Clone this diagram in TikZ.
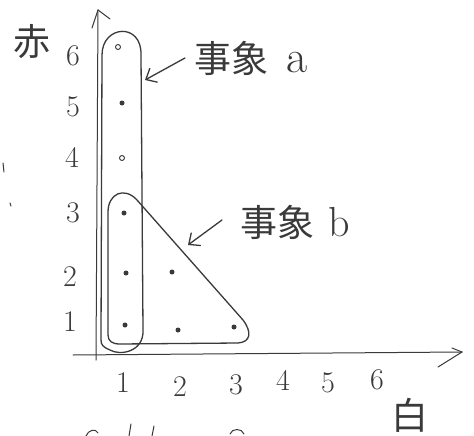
\documentclass[tikz,border=0pt]{standalone}
\usepackage{fontspec}
\newfontfamily\jp{Noto Sans CJK JP}
\usetikzlibrary{arrows.meta}
\definecolor{pencil}{HTML}{3A3A3A}
\tikzset{
  pen/.style={draw=pencil, line width=1.3pt, line cap=round, line join=round},
  thin pen/.style={draw=pencil, line width=1pt, line cap=round, line join=round},
  numlbl/.style={text=pencil, font=\fontsize{30}{30}\selectfont, inner sep=0pt},
  jplbl/.style={text=pencil, font=\jp\fontsize{37}{37}\selectfont, inner sep=0pt},
  fulldot/.style={circle, fill=pencil, inner sep=0pt, minimum size=5pt},
  hollowdot/.style={circle, draw=pencil, line width=0.9pt, inner sep=0pt, minimum size=5pt},
  barb/.style={-{Straight Barb[length=9pt,width=16pt,line width=1.3pt]}}
}
\begin{document}
\begin{tikzpicture}[x=1pt,y=-1pt]
\useasboundingbox (0,0) rectangle (474,436);
\fill[white] (0,0) rectangle (474,436);

% axes
\coordinate (yb) at (96,360);
\coordinate (yt) at (98,10);
\coordinate (xl) at (73,355);
\coordinate (xr) at (462,352);
\draw[thin pen] (yb) -- (yt);
\draw[thin pen] (yt) -- (92,28);
\draw[thin pen] (yt) -- (110,19);
\draw[thin pen] (xl) -- (xr);
\draw[thin pen] (xr) -- (438,367);
\draw[thin pen] (xr) -- (452,348);

% axis names
\node[jplbl] (aka) at (32,42) {赤};
\node[jplbl] (shiro) at (410,415) {白};

% y labels
\node[numlbl] (y6) at (73,56) {6};
\node[numlbl] (y5) at (73,107) {5};
\node[numlbl] (y4) at (72,157) {4};
\node[numlbl] (y3) at (73,213) {3};
\node[numlbl] (y2) at (70,277) {2};
\node[numlbl] (y1) at (70,322) {1};
% x labels
\node[numlbl] (x1) at (123,383) {1};
\node[numlbl] (x2) at (180,387) {2};
\node[numlbl] (x3) at (236,385) {3};
\node[numlbl] (x4) at (283,380) {4};
\node[numlbl] (x5) at (328,383) {5};
\node[numlbl] (x6) at (377,380) {6};

% sample points
\node[hollowdot] (p16) at (118,47) {};
\node[fulldot] (p15) at (122,103) {};
\node[hollowdot] (p14) at (122,158) {};
\node[fulldot] (p13) at (124,213) {};
\node[fulldot] (p12) at (126,273) {};
\node[fulldot] (p11) at (125,325) {};
\node[fulldot] (p22) at (172,272) {};
\node[fulldot] (p21) at (178,330) {};
\node[fulldot] (p31) at (234,327) {};

% event a: tall rounded rectangle
\draw[pen] (101,340) -- (102,55) .. controls (102,25) and (142,22) .. (141,55)
  -- (143,330) .. controls (144,352) and (120,356) .. (110,350)
  .. controls (103,347) and (101,345) .. (101,340);

% event b: rounded triangle
\draw[pen] (108,335) -- (108,212) .. controls (108,194) and (124,186) .. (137,200)
  -- (243,320) .. controls (252,332) and (251,342) .. (238,343)
  -- (120,344) .. controls (112,344) and (108,341) .. (108,335);

% labels
\node[jplbl, anchor=west] (ea) at (194,58) {事象\hspace{18pt}{\rmfamily\fontsize{46}{46}\selectfont a}};
\node[jplbl, anchor=west] (eb) at (240,222) {事象\hspace{14pt}{\rmfamily\fontsize{42}{42}\selectfont b}};

% arrows
\coordinate (ta) at (185,58);
\coordinate (ha) at (145,80);
\coordinate (tb) at (222,220);
\coordinate (hb) at (188,245);
\draw[pen, barb] (ta) -- (ha);
\draw[pen, barb] (tb) -- (hb);

% fragments of text cut off at the bottom
\draw[thin pen] (86,436) .. controls (88,430) and (96,428) .. (98,433);
\draw[thin pen] (131,424) -- (129,436);
\draw[thin pen] (154,426) -- (152,436);
\draw[thin pen] (230,434) .. controls (232,428) and (242,428) .. (244,434);
% stray marks on the left
\draw[thin pen] (3,163) -- (4,172);
\draw[thin pen] (10,203) -- (11,206);
\end{tikzpicture}
\end{document}
